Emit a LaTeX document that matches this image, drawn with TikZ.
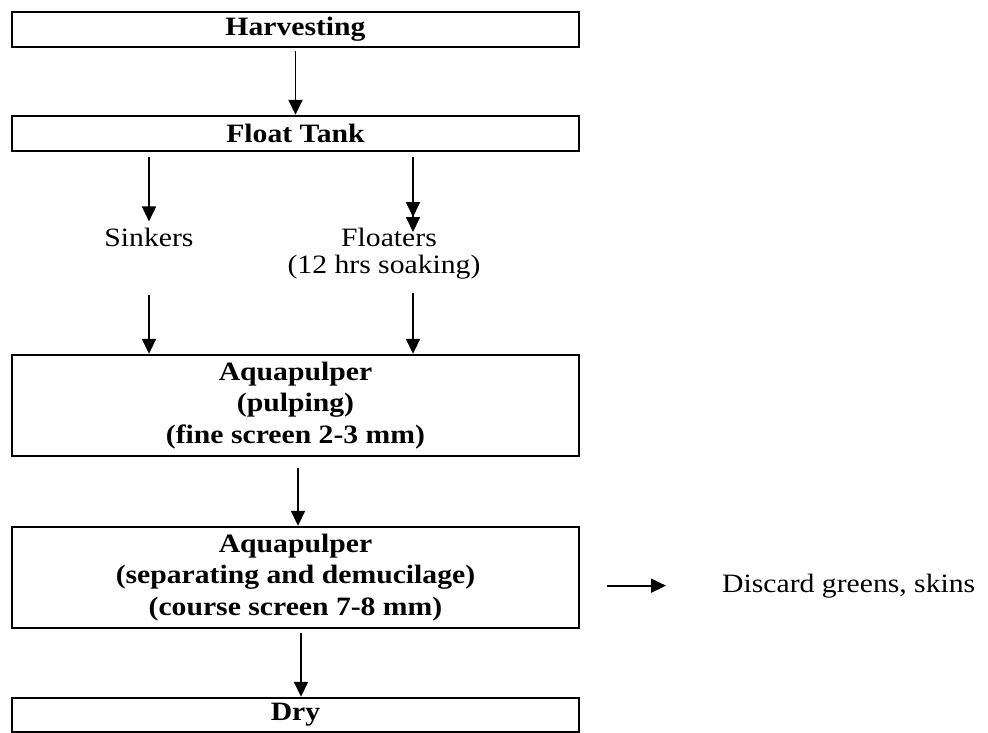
\documentclass[tikz,border=0pt]{standalone}
\usepackage{fontspec}
\setmainfont{Liberation Serif}[FakeStretch=1.12]
\usetikzlibrary{arrows.meta}
\tikzset{
  stepbox/.style={draw, line width=2.4pt, minimum width=567pt, inner sep=0pt, align=center, font=\fontsize{26.5}{31.5}\selectfont\bfseries},
  arr/.style={line width=1.8pt, -{Triangle[width=14pt,length=15pt]}},
  dblarr/.style={line width=1.8pt, -{Triangle[width=14pt,length=15pt]Triangle[width=14pt,length=15pt]}},
  lbl/.style={inner sep=0pt, anchor=base, font=\fontsize{26.5}{31.5}\selectfont}
}
\begin{document}
\begin{tikzpicture}[x=1pt, y=-1pt]
\useasboundingbox (0,0) rectangle (988,733);
\fill[white] (0,0) rectangle (988,733);
% boxes
\node[stepbox, minimum height=35pt] (h) at (295.5,29.5) {Harvesting};
\node[stepbox, minimum height=35pt] (f) at (295.5,133.5) {Float Tank};
\node[stepbox, minimum height=101pt] (a1) at (295.5,405.5) {Aquapulper\\(pulping)\\(fine screen 2-3 mm)};
\node[stepbox, minimum height=101pt] (a2) at (295.5,577.5) {Aquapulper\\(separating and demucilage)\\(course screen 7-8 mm)};
\node[stepbox, minimum height=34pt] (dry) at (295.5,715) {Dry};
% labels
\node[lbl] (sink) at (149,246) {Sinkers};
\node[lbl] (flo) at (389,246) {Floaters};
\node[lbl] (soak) at (384,273) {(12 hrs soaking)};
\node[lbl, anchor=base west] (disc) at (722,592) {Discard greens, skins};
% coordinates for free ends
\coordinate (s1) at (149,157);
\coordinate (fl1) at (413,157);
\coordinate (fl2) at (413,232);
\coordinate (s2) at (149,295);
\coordinate (fl3) at (413,293);
% connectors
\draw[arr] ([yshift=-3pt]h.south) -- (f.north);
\draw[arr] (s1) -- ([yshift=6pt]sink.north);
\draw[dblarr] (fl1) -- (fl2);
\draw[arr] (s2) -- (s2 |- a1.north);
\draw[arr] (fl3) -- (fl3 |- a1.north);
\draw[arr] ([xshift=2.5pt,yshift=-11pt]a1.south) -- ([xshift=2.5pt]a2.north);
\draw[arr] ([xshift=5.5pt,yshift=-4pt]a2.south) -- ([xshift=5.5pt]dry.north);
\draw[arr] ([xshift=27pt]a2.east |- disc.center) -- ([xshift=-56pt]disc.west);
\end{tikzpicture}
\end{document}
